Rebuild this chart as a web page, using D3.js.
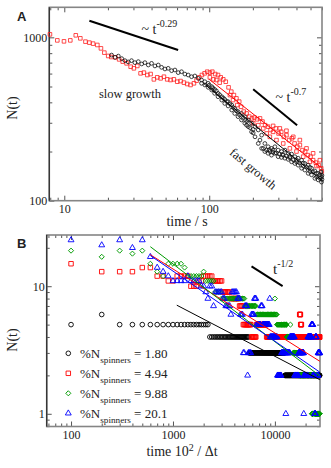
<!DOCTYPE html>
<html>
<head>
<meta charset="utf-8">
<script src="https://cdn.jsdelivr.net/npm/d3@7"></script>
<style>
  body { margin: 0; background: #fff; }
  text { font-family: "Liberation Serif", "Times New Roman", serif; fill: #222; }
</style>
</head>
<body>
<svg id="chart" width="331" height="468"></svg>
<script>
// ---------- panel A data: [time / s, N(t)] ----------
var blackA = [
  [21.2,779],[22.4,754],[23.6,768],[24.9,741],[26.2,720],[27.6,707],[29.1,720],[30.7,700],[32.4,710],
  [34.2,687],[36.0,700],[38.0,677],[40.0,693],[42.2,668],[44.5,677],[46.9,655],[49.5,640],[52.1,646],
  [55.0,625],[58.0,631],[61.1,608],[64.4,616],[67.9,596],[71.6,588],[75.5,574],[79.6,580],[84.0,561],
  [88.5,548],[88.5,523],[93.3,535],[93.3,511],[98.4,523],[98.4,494],[104,499],[104,476],[109,480],
  [109,454],[115,454],[115,433],[122,433],[122,413],[128,417],[128,394],[135,404],[135,380],[143,385],
  [143,359],[150,367],[150,342],[158,351],[158,327],[167,342],[167,312],[176,327],[176,298],[186,312],
  [186,284],[196,298],[196,264],[207,284],[207,246],[218,271],[218,224],[230,252],[230,209],[242,224],
  [242,200],[255,214],[255,195],[269,209],[269,190],[284,214],[284,195],[299,204],[299,186],[315,200],
  [315,184],[333,204],[333,182],[351,195],[351,179],[370,193],[370,173],[390,186],[390,169],[411,182],
  [411,165],[434,177],[434,158],[457,169],[457,154],[482,165],[482,147],[508,158],[508,144],[536,152],
  [536,137],[565,147],[565,134],[595,140],[595,130],
  [181,305],[201,273],[224,235],[236,209],[248,204],[262,200],[276,204],[324,190],[360,186],[400,173],
  [445,163],[495,151],[550,140],[580,144],
  [260,205],[275,198],[290,196],[305,193],[320,192],[340,188],[360,183],[380,178],[400,178],[420,170],
  [445,170],[470,160],[495,160],[520,150],[550,147],[580,137],[600,135],[590,150],[600,143],
  [100,510],[106,490],[112,470],[118,445],[125,425],[132,405],[139,392],[146,372],[154,355],[162,335],
  [171,320],[181,290],[191,280],[201,260]
];

var redA = [
  [7.96,1043],[8.95,958],[9.95,945],[11.0,958],[12.0,1029],[12.9,986],[14.0,941],[14.9,928],[15.8,915],
  [16.9,898],[17.9,856],[18.9,806],[20.1,769],[21.1,758],[22.5,754],[23.9,733],[25.3,710],[26.9,693],
  [28.7,661],[30.2,646],[31.9,668],[33.6,602],[35.4,608],[37.4,588],[39.4,596],[41.5,553],[43.8,569],
  [46.2,561],[48.7,574],[51.3,553],[54.1,548],[57.0,553],[60.2,535],[63.4,540],[66.9,528],[70.5,518],
  [74.3,511],[78.4,523],[81.8,543],[85.3,569],[89.0,588],[92.9,602],[96.9,616],[101,608],[105,616],
  [110,596],[115,588],[120,569],[125,553],[130,535],[101,569],[107,553],[112,548],[118,528],[136,494],
  [142,465],[148,443],[154,423],[161,404],[139,443],[146,413],[156,385],[166,376],[173,351],[181,342],
  [189,327],[197,319],[205,323],[214,315],[224,319],[233,305],[243,290],[201,298],[218,290],[236,277],
  [254,284],[265,271],[276,264],[288,277],[301,258],[314,264],[327,246],[341,252],[356,235],[372,241],
  [388,224],[405,214],[422,219],[440,204],[459,200],[479,190],[500,186],[521,177],[544,171],[568,165],
  [592,158],[262,246],[291,235],[324,224],[360,209],[400,200],[445,186],[495,173],[550,163],[598,151],
  [249,258],[276,287],[307,277],[341,268],[380,246],[422,235],[469,209],[521,195],[580,177]
];

var slowLineA = [[14.9,1263],[61,836]];
var fastLineA = [[201,481],[404,290]];
var fitRedA = [[100,553],[600,158]];
var fitBlackA = [[92,520],[600,133]];

var xMajorA = [10, 100];
var xMinorA = [8, 9, 20, 30, 40, 50, 60, 70, 80, 90, 200, 300, 400, 500, 600];
var yMajorA = [100, 1000];
var yMinorA = [200, 300, 400, 500, 600, 700, 800, 900];

// ---------- panel B data: runs [N, t from, t to], sampled every 100 ----------
var runsBlack = [[5,100,100],[6,200,200],[5,300,2200],[4,2300,5500],[3,5600,12400],[2,12500,27500]];
var runsRed = [
  [15,100,100],[13,200,400],[14,500,600],[12,700,800],[11,900,1000],[12,1100,1400],[10,1500,1700],
  [11,1800,1900],[12,2000,2400],[11,2500,3000],[9,3100,3600],[8,3700,4400],[7,4500,4800],[5,4900,5800],
  [4,5900,6500],[5,6600,8200],[4,8300,17400],[6,17500,17800],[5,17900,18200],[4,18300,27500]
];
var runsGreen = [
  [19,100,100],[17,200,200],[19,300,300],[18,400,400],[19,500,500],[15,600,600],[13,700,700],
  [12,800,800],[15,900,1200],[14,1300,1300],[12,1400,1900],[13,2000,2000],[11,2100,2500],[9,2600,2900],
  [8,3000,5000],[7,5100,6500],[6,6600,9900],[8,10000,10000],[6,10100,10400],[5,10500,13000],
  [4,13100,14100],[5,14200,14200],[4,14300,15000],[3,15100,17000],[2,17100,23000],[1,23100,23800],
  [2,23900,24500],[1,24600,27500]
];
var runsBlue = [
  [23,100,100],[21,200,200],[23,300,300],[20,400,400],[23,500,500],[17,600,600],[14,700,700],
  [13,800,800],[12,900,900],[11,1000,1300],[12,1400,1400],[11,1500,1800],[10,1900,2000],[9,2100,2100],
  [8,2200,2200],[10,2300,2400],[7,2500,2500],[9,2600,3000],[8,3100,3200],[7,3300,3600],[6,3700,3700],
  [9,3800,4200],[8,4300,4500],[6,4600,4800],[3,4900,5000],[7,5100,5300],[2,5400,5400],[3,5500,5800],
  [6,5900,6200],[8,6300,6500],[5,6600,7200],[7,7300,7500],[5,7600,8800],[8,8900,8900],[4,9000,10500],
  [2,10600,11500],[3,11600,12700],[1,12800,12800],[3,12900,14000],[4,14100,15500],[2,15600,17000],
  [3,17100,19100],[1,19200,19200],[2,19300,21000],[4,21100,22800],[5,22900,23500],[2,23600,24500],
  [1,24600,25000],[4,25100,25500],[2,25600,26500],[3,26600,27500]
];

var fitBlackB = [[1090,7.1],[27600,1.85]];
var fitRedB = [[596,17.7],[27600,2.58]];
var fitGreenB = [[600,20.4],[27600,1.98]];
var fitBlueB = [[600,17.4],[27600,2.12]];
var halfLineB = [[5900,14.3],[11900,10.0]];

var legendValues = ["1.80", "4.94", "9.88", "20.1"];

var xMajorB = [100, 1000, 10000];
var xMinorB = [60, 70, 80, 90, 200, 300, 400, 500, 600, 700, 800, 900,
               2000, 3000, 4000, 5000, 6000, 7000, 8000, 9000, 20000];
var yMajorB = [1, 10];
var yMinorB = [0.8, 0.9, 2, 3, 4, 5, 6, 7, 8, 9, 20];

// ---------- layout ----------
var FRAME_A = { left: 49.3, right: 322, top: 7.3, bottom: 200.7 };
var FRAME_B = { left: 46.7, right: 320, top: 235, bottom: 426.5 };

var svg = d3.select("#chart");
svg.append("rect").attr("width", 331).attr("height", 468).attr("fill", "#fff");

var xA = d3.scaleLog().domain([7.88, 600]).range([FRAME_A.left, FRAME_A.right]);
var yA = d3.scaleLog().domain([100, 1527]).range([FRAME_A.bottom, FRAME_A.top]);
var xB = d3.scaleLog().domain([57.7, 27700]).range([FRAME_B.left, FRAME_B.right]);
var yB = d3.scaleLog().domain([0.795, 25.2]).range([FRAME_B.bottom, FRAME_B.top]);

function expandRuns(runs) {
  var pts = [];
  runs.forEach(function(r) {
    for (var t = r[1]; t <= r[2]; t += 100) pts.push([t, r[0]]);
  });
  return pts;
}

function drawAxes(frame, x, y, ticks) {
  var fmt = d3.format("d");
  var axes = [
    { gen: d3.axisBottom(x), at: "translate(0," + frame.bottom + ")", major: ticks.xMajor, minor: ticks.xMinor, label: true, pad: 4 },
    { gen: d3.axisTop(x), at: "translate(0," + frame.top + ")", major: ticks.xMajor, minor: ticks.xMinor, label: false },
    { gen: d3.axisLeft(y), at: "translate(" + frame.left + ",0)", major: ticks.yMajor, minor: ticks.yMinor, label: true, pad: 2 },
    { gen: d3.axisRight(y), at: "translate(" + frame.right + ",0)", major: ticks.yMajor, minor: ticks.yMinor, label: false }
  ];
  axes.forEach(function(a) {
    var g = svg.append("g").attr("transform", a.at);
    g.append("g").call(a.gen.tickValues(a.minor).tickFormat("").tickSize(-3));
    g.append("g").call(a.gen.tickValues(a.major).tickFormat(a.label ? fmt : "").tickSize(-5).tickPadding(a.pad || 3));
    g.selectAll(".domain").remove();
    g.selectAll("line").attr("stroke", "#555").attr("stroke-width", 1);
    g.selectAll("text")
      .attr("fill", "#222")
      .style("font-family", "'Liberation Serif', serif")
      .style("font-size", "12px");
  });

  svg.append("rect")
    .attr("x", frame.left).attr("y", frame.top)
    .attr("width", frame.right - frame.left)
    .attr("height", frame.bottom - frame.top)
    .attr("fill", "none")
    .attr("stroke", "#858585")
    .attr("stroke-width", 1.6);

  svg.append("line")
    .attr("x1", frame.left).attr("x2", frame.left)
    .attr("y1", frame.top).attr("y2", frame.bottom)
    .attr("stroke", "#333").attr("stroke-width", 1.3);
}

function symbolPath(kind, size) {
  var types = { circle: d3.symbolCircle, square: d3.symbolSquare, diamond: d3.symbolSquare, triangle: d3.symbolTriangle };
  return d3.symbol().type(types[kind]).size(size)();
}

function drawMarkers(data, x, y, kind, color, size, width) {
  var path = symbolPath(kind, size);
  var rot = kind === "diamond" ? " rotate(45)" : "";
  svg.append("g").selectAll("path")
    .data(data)
    .enter()
    .append("path")
    .attr("d", path)
    .attr("transform", function(d) { return "translate(" + x(d[0]) + "," + y(d[1]) + ")" + rot; })
    .attr("fill", "none")
    .attr("stroke", color)
    .attr("stroke-width", width);
}

function drawLine(pts, x, y, color, width) {
  svg.append("path")
    .attr("d", d3.line().x(function(d) { return x(d[0]); }).y(function(d) { return y(d[1]); })(pts))
    .attr("fill", "none")
    .attr("stroke", color)
    .attr("stroke-width", width);
}

function powerLabel(px, py, base, exp, baseSize, expSize) {
  var t = svg.append("text").attr("x", px).attr("y", py).style("font-size", baseSize + "px");
  t.append("tspan").text(base);
  t.append("tspan").attr("dy", -baseSize * 0.45).style("font-size", expSize + "px").text(exp);
}

// ---------- panel A ----------
drawAxes(FRAME_A, xA, yA, { xMajor: xMajorA, xMinor: xMinorA, yMajor: yMajorA, yMinor: yMinorA });

drawMarkers(redA, xA, yA, "square", "#ff2020", 13, 0.8);
drawMarkers(blackA, xA, yA, "circle", "#111", 11, 0.8);
drawLine(fitRedA, xA, yA, "#ff0000", 1);
drawLine(fitBlackA, xA, yA, "#000", 1);
drawLine(slowLineA, xA, yA, "#000", 2);
drawLine(fastLineA, xA, yA, "#000", 2);

powerLabel(141.5, 33.5, "~ t", "-0.29", 14, 10);
powerLabel(275.5, 101.5, "~ t", "-0.7", 14, 10);

svg.append("text").attr("x", 130).attr("y", 97.5).attr("text-anchor", "middle")
  .style("font-size", "12.5px").text("slow growth");
svg.append("text").attr("text-anchor", "middle")
  .attr("transform", "translate(250.5,172) rotate(40)")
  .style("font-size", "12.5px").text("fast growth");

svg.append("text").attr("text-anchor", "middle")
  .attr("transform", "translate(17,108) rotate(-90)")
  .style("font-size", "14px").text("N(t)");
svg.append("text").attr("x", 187).attr("y", 225.5).attr("text-anchor", "middle")
  .style("font-size", "14px").text("time / s");

svg.append("text").attr("x", 17).attr("y", 20.8)
  .style("font-family", "'Liberation Sans', Arial, sans-serif")
  .style("font-weight", "bold").style("font-size", "13px").attr("fill", "#000").text("A");

// ---------- panel B ----------
drawAxes(FRAME_B, xB, yB, { xMajor: xMajorB, xMinor: xMinorB, yMajor: yMajorB, yMinor: yMinorB });

var seriesB = [
  { runs: runsBlack, kind: "circle", color: "#000", size: 17 },
  { runs: runsRed, kind: "square", color: "#ff0000", size: 20 },
  { runs: runsGreen, kind: "diamond", color: "#009a00", size: 13 },
  { runs: runsBlue, kind: "triangle", color: "#0000ff", size: 15 }
];

seriesB.forEach(function(s) {
  drawMarkers(expandRuns(s.runs), xB, yB, s.kind, s.color, s.size, 0.9);
});

drawLine(fitBlackB, xB, yB, "#000", 1);
drawLine(fitRedB, xB, yB, "#ff0000", 1);
drawLine(fitGreenB, xB, yB, "#009a00", 1);
drawLine(fitBlueB, xB, yB, "#0000ff", 1);
drawLine(halfLineB, xB, yB, "#000", 2);

powerLabel(273, 273.5, "t", "-1/2", 15, 10);

// legend
var legendY = d3.scalePoint().domain(legendValues).range([353.3, 413.3]);
seriesB.forEach(function(s, i) {
  var ly = legendY(legendValues[i]);
  svg.append("path")
    .attr("d", symbolPath(s.kind, s.size))
    .attr("transform", "translate(68.3," + ly + ")" + (s.kind === "diamond" ? " rotate(45)" : ""))
    .attr("fill", "none").attr("stroke", s.color).attr("stroke-width", 0.9);
  var t = svg.append("text").attr("x", 80).attr("y", ly + 5).style("font-size", "13px");
  t.append("tspan").text("%N");
  t.append("tspan").attr("dy", 4.5).style("font-size", "9.2px").text("spinners");
  t.append("tspan").attr("dy", -4.5).text(" = " + legendValues[i]);
});

svg.append("text").attr("text-anchor", "middle")
  .attr("transform", "translate(17,340) rotate(-90)")
  .style("font-size", "14px").text("N(t)");

var xt = svg.append("text").attr("x", 182).attr("y", 456).attr("text-anchor", "middle")
  .style("font-size", "14px");
xt.append("tspan").text("time 10");
xt.append("tspan").attr("dy", -5.5).style("font-size", "10px").text("2");
xt.append("tspan").attr("dy", 5.5).text(" / \u0394t");

svg.append("text").attr("x", 17).attr("y", 248.3)
  .style("font-family", "'Liberation Sans', Arial, sans-serif")
  .style("font-weight", "bold").style("font-size", "13px").attr("fill", "#000").text("B");
</script>
</body>
</html>
